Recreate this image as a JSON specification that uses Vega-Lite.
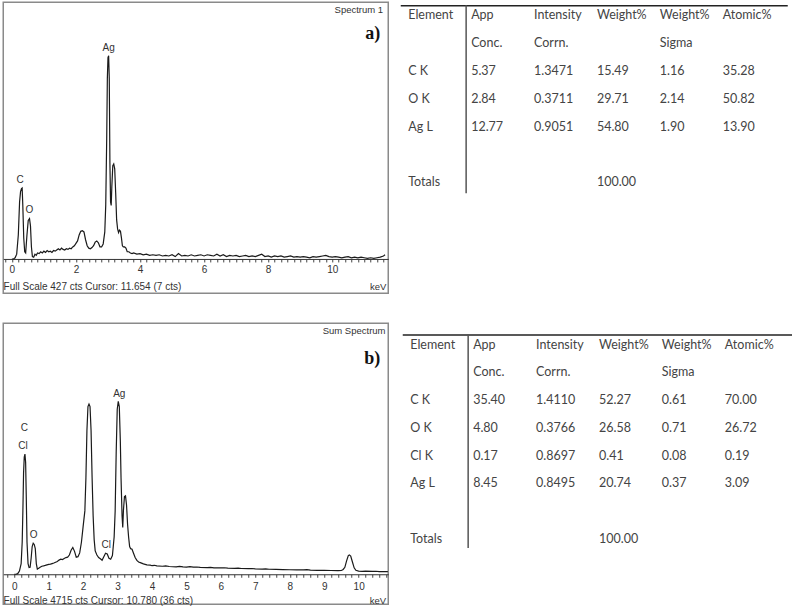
{
  "$schema": "https://vega.github.io/schema/vega-lite/v6.json",
  "background": "white",
  "padding": {"left": 2.25, "top": 1.25, "right": 0, "bottom": 0},
  "config": {"view": {"stroke": null}},
  "spacing": 28,
  "datasets": {
    "specA": [
      {"e":0.0,"c":0},{"e":0.05,"c":0},{"e":0.1,"c":2},{"e":0.15,"c":8},{"e":0.2,"c":40},{"e":0.24,"c":95},{"e":0.27,"c":112},{"e":0.3,"c":117},{"e":0.32,"c":118},{"e":0.34,"c":90},{"e":0.37,"c":35},{"e":0.4,"c":12},{"e":0.43,"c":10},{"e":0.47,"c":40},{"e":0.51,"c":64},{"e":0.55,"c":67},{"e":0.58,"c":55},{"e":0.61,"c":20},{"e":0.64,"c":4},{"e":0.68,"c":3},{"e":0.72,"c":8},{"e":0.76,"c":6},{"e":0.8,"c":10},{"e":0.85,"c":9},{"e":0.9,"c":12},{"e":0.95,"c":10},{"e":1.0,"c":13},{"e":1.05,"c":11},{"e":1.1,"c":14},{"e":1.15,"c":12},{"e":1.2,"c":13},{"e":1.25,"c":11},{"e":1.3,"c":14},{"e":1.35,"c":13},{"e":1.4,"c":15},{"e":1.45,"c":17},{"e":1.5,"c":15},{"e":1.55,"c":18},{"e":1.6,"c":16},{"e":1.65,"c":15},{"e":1.7,"c":17},{"e":1.75,"c":16},{"e":1.8,"c":18},{"e":1.85,"c":17},{"e":1.9,"c":20},{"e":1.95,"c":22},{"e":2.0,"c":26},{"e":2.05,"c":30},{"e":2.1,"c":40},{"e":2.15,"c":46},{"e":2.2,"c":47},{"e":2.25,"c":45},{"e":2.3,"c":32},{"e":2.35,"c":22},{"e":2.4,"c":18},{"e":2.45,"c":17},{"e":2.5,"c":19},{"e":2.55,"c":22},{"e":2.6,"c":28},{"e":2.65,"c":30},{"e":2.7,"c":27},{"e":2.75,"c":20},{"e":2.8,"c":20},{"e":2.85,"c":25},{"e":2.9,"c":45},{"e":2.93,"c":90},{"e":2.96,"c":200},{"e":2.98,"c":300},{"e":3.0,"c":335},{"e":3.02,"c":338},{"e":3.04,"c":300},{"e":3.06,"c":160},{"e":3.08,"c":95},{"e":3.1,"c":89},{"e":3.12,"c":120},{"e":3.15,"c":155},{"e":3.18,"c":158},{"e":3.21,"c":150},{"e":3.24,"c":110},{"e":3.27,"c":65},{"e":3.3,"c":50},{"e":3.33,"c":44},{"e":3.36,"c":48},{"e":3.39,"c":46},{"e":3.42,"c":35},{"e":3.45,"c":22},{"e":3.48,"c":20},{"e":3.52,"c":20},{"e":3.56,"c":18},{"e":3.6,"c":12},{"e":3.65,"c":12},{"e":3.7,"c":10},{"e":3.75,"c":9},{"e":3.8,"c":10},{"e":3.9,"c":8},{"e":4.0,"c":9},{"e":4.1,"c":7},{"e":4.2,"c":8},{"e":4.3,"c":6},{"e":4.4,"c":7},{"e":4.5,"c":6},{"e":4.6,"c":7},{"e":4.7,"c":5},{"e":4.8,"c":6},{"e":4.9,"c":5},{"e":5.0,"c":7},{"e":5.1,"c":4},{"e":5.2,"c":9},{"e":5.3,"c":5},{"e":5.4,"c":6},{"e":5.5,"c":5},{"e":5.6,"c":7},{"e":5.7,"c":5},{"e":5.8,"c":6},{"e":5.9,"c":7},{"e":6.0,"c":5},{"e":6.1,"c":7},{"e":6.2,"c":6},{"e":6.3,"c":5},{"e":6.4,"c":8},{"e":6.5,"c":5},{"e":6.6,"c":7},{"e":6.7,"c":4},{"e":6.8,"c":6},{"e":6.9,"c":5},{"e":7.0,"c":6},{"e":7.1,"c":4},{"e":7.2,"c":5},{"e":7.3,"c":6},{"e":7.4,"c":4},{"e":7.5,"c":5},{"e":7.6,"c":4},{"e":7.7,"c":6},{"e":7.8,"c":8},{"e":7.9,"c":4},{"e":8.0,"c":5},{"e":8.1,"c":3},{"e":8.2,"c":5},{"e":8.3,"c":4},{"e":8.4,"c":5},{"e":8.5,"c":3},{"e":8.6,"c":4},{"e":8.7,"c":5},{"e":8.8,"c":3},{"e":8.9,"c":4},{"e":9.0,"c":3},{"e":9.1,"c":4},{"e":9.2,"c":3},{"e":9.3,"c":2},{"e":9.4,"c":4},{"e":9.5,"c":3},{"e":9.6,"c":4},{"e":9.7,"c":5},{"e":9.8,"c":6},{"e":9.9,"c":4},{"e":10.0,"c":3},{"e":10.1,"c":4},{"e":10.2,"c":3},{"e":10.3,"c":2},{"e":10.4,"c":3},{"e":10.5,"c":4},{"e":10.6,"c":2},{"e":10.7,"c":3},{"e":10.8,"c":2},{"e":10.9,"c":3},{"e":11.0,"c":2},{"e":11.1,"c":1},{"e":11.2,"c":2},{"e":11.3,"c":1},{"e":11.4,"c":2},{"e":11.5,"c":3},{"e":11.6,"c":5},{"e":11.65,"c":7}
    ],
    "specB": [
      {"e":0.0,"c":0},{"e":0.05,"c":0},{"e":0.1,"c":10},{"e":0.15,"c":60},{"e":0.2,"c":200},{"e":0.23,"c":600},{"e":0.25,"c":1190},{"e":0.27,"c":1900},{"e":0.29,"c":2200},{"e":0.31,"c":2258},{"e":0.33,"c":2100},{"e":0.35,"c":1400},{"e":0.37,"c":600},{"e":0.4,"c":200},{"e":0.43,"c":125},{"e":0.46,"c":130},{"e":0.49,"c":300},{"e":0.52,"c":520},{"e":0.55,"c":583},{"e":0.58,"c":560},{"e":0.61,"c":480},{"e":0.64,"c":200},{"e":0.67,"c":94},{"e":0.7,"c":110},{"e":0.75,"c":130},{"e":0.8,"c":150},{"e":0.85,"c":157},{"e":0.9,"c":165},{"e":0.95,"c":175},{"e":1.0,"c":185},{"e":1.05,"c":190},{"e":1.1,"c":200},{"e":1.15,"c":210},{"e":1.2,"c":225},{"e":1.25,"c":240},{"e":1.3,"c":265},{"e":1.35,"c":282},{"e":1.4,"c":275},{"e":1.45,"c":295},{"e":1.5,"c":313},{"e":1.55,"c":320},{"e":1.6,"c":360},{"e":1.65,"c":450},{"e":1.7,"c":502},{"e":1.75,"c":430},{"e":1.8,"c":320},{"e":1.85,"c":330},{"e":1.9,"c":400},{"e":1.95,"c":600},{"e":2.0,"c":900},{"e":2.05,"c":1190},{"e":2.08,"c":1800},{"e":2.11,"c":2700},{"e":2.14,"c":3150},{"e":2.17,"c":3198},{"e":2.2,"c":3150},{"e":2.23,"c":2700},{"e":2.26,"c":1819},{"e":2.29,"c":1100},{"e":2.32,"c":650},{"e":2.35,"c":439},{"e":2.4,"c":360},{"e":2.45,"c":313},{"e":2.5,"c":290},{"e":2.55,"c":263},{"e":2.6,"c":330},{"e":2.65,"c":395},{"e":2.7,"c":380},{"e":2.75,"c":300},{"e":2.8,"c":282},{"e":2.85,"c":350},{"e":2.9,"c":700},{"e":2.93,"c":1190},{"e":2.96,"c":2300},{"e":2.99,"c":3100},{"e":3.02,"c":3249},{"e":3.05,"c":3150},{"e":3.08,"c":2500},{"e":3.1,"c":1819},{"e":3.13,"c":1100},{"e":3.15,"c":878},{"e":3.17,"c":1200},{"e":3.2,"c":1460},{"e":3.23,"c":1473},{"e":3.26,"c":1300},{"e":3.29,"c":940},{"e":3.32,"c":700},{"e":3.35,"c":520},{"e":3.38,"c":480},{"e":3.42,"c":470},{"e":3.46,"c":400},{"e":3.51,"c":313},{"e":3.56,"c":260},{"e":3.61,"c":230},{"e":3.66,"c":219},{"e":3.75,"c":195},{"e":3.85,"c":175},{"e":3.95,"c":170},{"e":4.0,"c":160},{"e":4.07,"c":168},{"e":4.14,"c":157},{"e":4.3,"c":150},{"e":4.4,"c":155},{"e":4.5,"c":145},{"e":4.7,"c":140},{"e":4.8,"c":146},{"e":4.9,"c":138},{"e":5.0,"c":135},{"e":5.1,"c":142},{"e":5.2,"c":132},{"e":5.3,"c":136},{"e":5.4,"c":128},{"e":5.6,"c":125},{"e":5.7,"c":130},{"e":5.8,"c":120},{"e":6.0,"c":118},{"e":6.1,"c":122},{"e":6.2,"c":113},{"e":6.4,"c":110},{"e":6.5,"c":115},{"e":6.6,"c":108},{"e":6.8,"c":104},{"e":6.9,"c":108},{"e":7.0,"c":100},{"e":7.2,"c":97},{"e":7.3,"c":100},{"e":7.4,"c":94},{"e":7.6,"c":90},{"e":7.8,"c":88},{"e":8.0,"c":84},{"e":8.2,"c":80},{"e":8.4,"c":80},{"e":8.5,"c":88},{"e":8.6,"c":76},{"e":8.8,"c":74},{"e":9.0,"c":72},{"e":9.2,"c":70},{"e":9.4,"c":68},{"e":9.5,"c":70},{"e":9.55,"c":90},{"e":9.6,"c":130},{"e":9.65,"c":250},{"e":9.7,"c":350},{"e":9.73,"c":363},{"e":9.77,"c":340},{"e":9.82,"c":230},{"e":9.87,"c":120},{"e":9.92,"c":75},{"e":10.0,"c":60},{"e":10.1,"c":55},{"e":10.2,"c":58},{"e":10.4,"c":52},{"e":10.5,"c":56},{"e":10.6,"c":50},{"e":10.8,"c":48},{"e":10.85,"c":50}
    ],
    "hdr": [
      {"row":"h1","col":"Element","t":"Element"},
      {"row":"h1","col":"AppConc","t":"App"},
      {"row":"h1","col":"IntensityCorrn","t":"Intensity"},
      {"row":"h1","col":"Weight","t":"Weight%"},
      {"row":"h1","col":"WeightSigma","t":"Weight%"},
      {"row":"h1","col":"Atomic","t":"Atomic%"},
      {"row":"h2","col":"AppConc","t":"Conc."},
      {"row":"h2","col":"IntensityCorrn","t":"Corrn."},
      {"row":"h2","col":"WeightSigma","t":"Sigma"},
      {"row":"Totals","col":"Element","t":"Totals"},
      {"row":"Totals","col":"Weight","t":"100.00"}
    ],
    "tabA": [
      {"row":"CK","col":"Element","t":"C K"},{"row":"CK","col":"AppConc","t":"5.37"},{"row":"CK","col":"IntensityCorrn","t":"1.3471"},{"row":"CK","col":"Weight","t":"15.49"},{"row":"CK","col":"WeightSigma","t":"1.16"},{"row":"CK","col":"Atomic","t":"35.28"},
      {"row":"OK","col":"Element","t":"O K"},{"row":"OK","col":"AppConc","t":"2.84"},{"row":"OK","col":"IntensityCorrn","t":"0.3711"},{"row":"OK","col":"Weight","t":"29.71"},{"row":"OK","col":"WeightSigma","t":"2.14"},{"row":"OK","col":"Atomic","t":"50.82"},
      {"row":"AgL","col":"Element","t":"Ag L"},{"row":"AgL","col":"AppConc","t":"12.77"},{"row":"AgL","col":"IntensityCorrn","t":"0.9051"},{"row":"AgL","col":"Weight","t":"54.80"},{"row":"AgL","col":"WeightSigma","t":"1.90"},{"row":"AgL","col":"Atomic","t":"13.90"}
    ],
    "tabB": [
      {"row":"CK","col":"Element","t":"C K"},{"row":"CK","col":"AppConc","t":"35.40"},{"row":"CK","col":"IntensityCorrn","t":"1.4110"},{"row":"CK","col":"Weight","t":"52.27"},{"row":"CK","col":"WeightSigma","t":"0.61"},{"row":"CK","col":"Atomic","t":"70.00"},
      {"row":"OK","col":"Element","t":"O K"},{"row":"OK","col":"AppConc","t":"4.80"},{"row":"OK","col":"IntensityCorrn","t":"0.3766"},{"row":"OK","col":"Weight","t":"26.58"},{"row":"OK","col":"WeightSigma","t":"0.71"},{"row":"OK","col":"Atomic","t":"26.72"},
      {"row":"ClK","col":"Element","t":"Cl K"},{"row":"ClK","col":"AppConc","t":"0.17"},{"row":"ClK","col":"IntensityCorrn","t":"0.8697"},{"row":"ClK","col":"Weight","t":"0.41"},{"row":"ClK","col":"WeightSigma","t":"0.08"},{"row":"ClK","col":"Atomic","t":"0.19"},
      {"row":"AgL","col":"Element","t":"Ag L"},{"row":"AgL","col":"AppConc","t":"8.45"},{"row":"AgL","col":"IntensityCorrn","t":"0.8495"},{"row":"AgL","col":"Weight","t":"20.74"},{"row":"AgL","col":"WeightSigma","t":"0.37"},{"row":"AgL","col":"Atomic","t":"3.09"}
    ],
    "ruleLine": [{"col":"AppConc","r1":"h1","r2":"Totals"}]
  },
  "vconcat": [
    {
      "spacing": 11,
      "hconcat": [
        {
          "width": 385, "height": 291,
          "view": {"stroke": "#8a8a8a", "strokeWidth": 1.5},
          "encoding": {
            "x": {"field": "e", "type": "quantitative",
              "scale": {"domain": [-0.27, 11.75], "nice": false, "zero": false},
              "axis": {"orient": "bottom", "offset": -34.3, "title": null, "grid": false,
                "values": [-0.2,0,0.2,0.4,0.6,0.8,1,1.2,1.4,1.6,1.8,2,2.2,2.4,2.6,2.8,3,3.2,3.4,3.6,3.8,4,4.2,4.4,4.6,4.8,5,5.2,5.4,5.6,5.8,6,6.2,6.4,6.6,6.8,7,7.2,7.4,7.6,7.8,8,8.2,8.4,8.6,8.8,9,9.2,9.4,9.6,9.8,10,10.2,10.4,10.6,10.8,11,11.2,11.4,11.6],
                "labelExpr": "abs(datum.value % 2) < 0.001 ? format(datum.value, 'd') : ''",
                "labelOverlap": false, "labelBound": false, "labelFlush": false,
                "tickSize": 3, "tickColor": "#444", "domainColor": "#333", "domainWidth": 1,
                "labelFont": "Liberation Sans", "labelFontSize": 10, "labelColor": "#333", "labelPadding": 3}},
            "y": {"field": "c", "type": "quantitative", "scale": {"domain": [-57, 427], "nice": false, "zero": false}, "axis": null}
          },
          "layer": [
            {"data": {"name": "specA"}, "mark": {"type": "line", "color": "#1a1a1a", "strokeWidth": 1.2}},
            {"data": {"values": [{"e":3.02,"c":340,"t":"Ag"},{"e":0.26,"c":119,"t":"C"},{"e":0.55,"c":70,"t":"O"}]},
             "mark": {"type": "text", "baseline": "bottom", "dy": -2, "font": "Liberation Sans", "fontSize": 10, "color": "#333"},
             "encoding": {"text": {"field": "t"}}},
            {"data": {"values": [{"e":-0.26,"c":-47,"t":"Full Scale 427 cts Cursor: 11.654  (7 cts)"}]},
             "mark": {"type": "text", "align": "left", "baseline": "middle", "font": "Liberation Sans", "fontSize": 10, "color": "#333"},
             "encoding": {"text": {"field": "t"}}},
            {"data": {"values": [{"e":11.59,"c":414,"t":"Spectrum 1"},{"e":11.69,"c":-47,"t":"keV"}]},
             "mark": {"type": "text", "align": "right", "baseline": "middle", "font": "Liberation Sans", "fontSize": 9.5, "color": "#333"},
             "encoding": {"text": {"field": "t"}}},
            {"data": {"values": [{"e":11.5,"c":375,"t":"a)"}]},
             "mark": {"type": "text", "align": "right", "baseline": "middle", "font": "Liberation Serif", "fontWeight": "bold", "fontSize": 18, "color": "#111"},
             "encoding": {"text": {"field": "t"}}}
          ]
        },
        {
          "width": 387, "height": 193,
          "layer": [
            {"data": {"name": "hdr"},
             "mark": {"type": "text", "align": "left", "baseline": "middle", "dx": 8, "font": "Lato", "fontSize": 12.5, "color": "#444"},
             "encoding": {
               "x": {"field": "col", "type": "nominal", "bandPosition": 0,
                 "scale": {"type": "band", "domain": ["Element","AppConc","IntensityCorrn","Weight","WeightSigma","Atomic"], "paddingInner": 0, "paddingOuter": 0.077, "align": 0, "round": false},
                 "axis": {"orient": "top", "offset": -3, "labels": false, "ticks": false, "title": null, "grid": false, "domainColor": "#222", "domainWidth": 1.5}},
               "y": {"field": "row", "type": "nominal", "scale": {"type": "point", "domain": ["h1","h2","CK","OK","AgL","gap","Totals"], "padding": 0.467}, "axis": null},
               "text": {"field": "t"}}},
            {"data": {"name": "tabA"},
             "mark": {"type": "text", "align": "left", "baseline": "middle", "dx": 8, "font": "Lato", "fontSize": 12.5, "color": "#444"},
             "encoding": {
               "x": {"field": "col", "type": "nominal", "bandPosition": 0},
               "y": {"field": "row", "type": "nominal"},
               "text": {"field": "t"}}},
            {"data": {"name": "ruleLine"},
             "mark": {"type": "rule", "color": "#555", "strokeWidth": 1.5, "xOffset": 3, "yOffset": -10, "y2Offset": 11},
             "encoding": {
               "x": {"field": "col", "type": "nominal", "bandPosition": 0},
               "y": {"field": "r1", "type": "nominal"},
               "y2": {"field": "r2"}}}
          ]
        }
      ]
    },
    {
      "spacing": 11,
      "hconcat": [
        {
          "width": 385, "height": 281,
          "view": {"stroke": "#8a8a8a", "strokeWidth": 1.5},
          "encoding": {
            "x": {"field": "e", "type": "quantitative",
              "scale": {"domain": [-0.32, 10.86], "nice": false, "zero": false},
              "axis": {"orient": "bottom", "offset": -30, "title": null, "grid": false,
                "values": [-0.2,0,0.2,0.4,0.6,0.8,1,1.2,1.4,1.6,1.8,2,2.2,2.4,2.6,2.8,3,3.2,3.4,3.6,3.8,4,4.2,4.4,4.6,4.8,5,5.2,5.4,5.6,5.8,6,6.2,6.4,6.6,6.8,7,7.2,7.4,7.6,7.8,8,8.2,8.4,8.6,8.8,9,9.2,9.4,9.6,9.8,10,10.2,10.4,10.6,10.8],
                "labelExpr": "abs(datum.value - round(datum.value)) < 0.001 ? format(datum.value, 'd') : ''",
                "labelOverlap": false, "labelBound": false, "labelFlush": false,
                "tickSize": 3, "tickColor": "#444", "domainColor": "#333", "domainWidth": 1,
                "labelFont": "Liberation Sans", "labelFontSize": 10, "labelColor": "#333", "labelPadding": 4}},
            "y": {"field": "c", "type": "quantitative", "scale": {"domain": [-564, 4715], "nice": false, "zero": false}, "axis": null}
          },
          "layer": [
            {"data": {"name": "specB"}, "mark": {"type": "line", "color": "#1a1a1a", "strokeWidth": 1.2}},
            {"data": {"values": [{"e":3.05,"c":3261,"t":"Ag"},{"e":0.29,"c":2615,"t":"C"},{"e":0.25,"c":2282,"t":"Cl"},{"e":0.56,"c":608,"t":"O"},{"e":2.67,"c":420,"t":"Cl"}]},
             "mark": {"type": "text", "baseline": "bottom", "dy": -2, "font": "Liberation Sans", "fontSize": 10, "color": "#333"},
             "encoding": {"text": {"field": "t"}}},
            {"data": {"values": [{"e":-0.31,"c":-502,"t":"Full Scale 4715 cts Cursor: 10.780  (36 cts)"}]},
             "mark": {"type": "text", "align": "left", "baseline": "middle", "font": "Liberation Sans", "fontSize": 10, "color": "#333"},
             "encoding": {"text": {"field": "t"}}},
            {"data": {"values": [{"e":10.78,"c":4578,"t":"Sum Spectrum"},{"e":10.8,"c":-502,"t":"keV"}]},
             "mark": {"type": "text", "align": "right", "baseline": "middle", "font": "Liberation Sans", "fontSize": 9.5, "color": "#333"},
             "encoding": {"text": {"field": "t"}}},
            {"data": {"values": [{"e":10.63,"c":4045,"t":"b)"}]},
             "mark": {"type": "text", "align": "right", "baseline": "middle", "font": "Liberation Serif", "fontWeight": "bold", "fontSize": 18, "color": "#111"},
             "encoding": {"text": {"field": "t"}}}
          ]
        },
        {
          "width": 390, "height": 237,
          "layer": [
            {"data": {"name": "hdr"},
             "mark": {"type": "text", "align": "left", "baseline": "middle", "dx": 8, "font": "Lato", "fontSize": 12.5, "color": "#444"},
             "encoding": {
               "x": {"field": "col", "type": "nominal", "bandPosition": 0,
                 "scale": {"type": "band", "domain": ["Element","AppConc","IntensityCorrn","Weight","WeightSigma","Atomic"], "paddingInner": 0, "paddingOuter": 0.1, "align": 0, "round": false},
                 "axis": {"orient": "top", "offset": -11.3, "labels": false, "ticks": false, "title": null, "grid": false, "domainColor": "#222", "domainWidth": 1.5}},
               "y": {"field": "row", "type": "nominal", "scale": {"type": "point", "domain": ["h1","h2","CK","OK","ClK","AgL","gap","Totals"], "padding": 0.769}, "axis": null},
               "text": {"field": "t"}}},
            {"data": {"name": "tabB"},
             "mark": {"type": "text", "align": "left", "baseline": "middle", "dx": 8, "font": "Lato", "fontSize": 12.5, "color": "#444"},
             "encoding": {
               "x": {"field": "col", "type": "nominal", "bandPosition": 0},
               "y": {"field": "row", "type": "nominal"},
               "text": {"field": "t"}}},
            {"data": {"name": "ruleLine"},
             "mark": {"type": "rule", "color": "#555", "strokeWidth": 1.5, "xOffset": 3, "yOffset": -10, "y2Offset": 9},
             "encoding": {
               "x": {"field": "col", "type": "nominal", "bandPosition": 0},
               "y": {"field": "r1", "type": "nominal"},
               "y2": {"field": "r2"}}}
          ]
        }
      ]
    }
  ]
}
